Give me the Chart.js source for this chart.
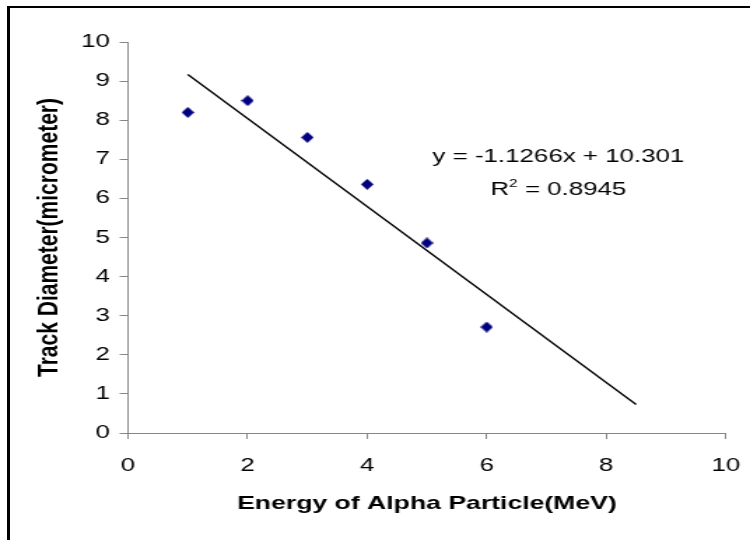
<!DOCTYPE html>
<html>
<head>
<meta charset="utf-8">
<script src="https://cdn.jsdelivr.net/npm/chart.js@4"></script>
<style>
    html, body { margin: 0; padding: 0; background: #fff; overflow: hidden; }
    .frame {
        position: absolute; left: 7px; top: 6px; width: 800px; height: 600px;
        border-top: 2px solid #000; border-left: 3px solid #000;
    }
    /* the reference is stretched sideways, so the canvas is drawn narrow and widened */
    #chart { position: absolute; left: 0; top: 0; }
</style>
</head>
<body>
<div class="frame"></div>
<canvas id="chart" width="536" height="540" style="width:750px;height:540px"></canvas>
<script>
(function () {
    "use strict";

    // Data
    const energy = [1, 2, 3, 4, 5, 6];
    const diameter = [8.2, 8.5, 7.56, 6.36, 4.86, 2.71];
    const trendX = [1, 8.5];
    const trendY = [9.17, 0.73];
    const equationText = "y = -1.1266x + 10.301";
    const rSquaredText = " = 0.8945";

    const FONT = '"Liberation Sans", Arial, sans-serif';
    const axisGray = "#868686";

    // diamond marker, a bit taller than wide (before stretching)
    const marker = document.createElement("canvas");
    marker.width = 9;
    marker.height = 11;
    const mctx = marker.getContext("2d");
    mctx.fillStyle = "#000080";
    mctx.beginPath();
    mctx.moveTo(4.5, 0);
    mctx.lineTo(9, 5.5);
    mctx.lineTo(4.5, 11);
    mctx.lineTo(0, 5.5);
    mctx.closePath();
    mctx.fill();

    const equationLabel = {
        id: "equationLabel",
        afterDatasetsDraw(chart) {
            const ctx = chart.ctx;
            const x = chart.scales.x.getPixelForValue(7.2);
            const y1 = chart.scales.y.getPixelForValue(6.93);
            const y2 = chart.scales.y.getPixelForValue(6.09);
            ctx.save();
            ctx.fillStyle = "#000";
            ctx.textBaseline = "alphabetic";
            ctx.font = "18.5px " + FONT;
            ctx.textAlign = "center";
            ctx.fillText(equationText, x, y1);

            // R² line, drawn piece by piece for the superscript
            ctx.textAlign = "left";
            const wR = ctx.measureText("R").width;
            const wRest = ctx.measureText(rSquaredText).width;
            ctx.font = "11px " + FONT;
            const wSup = ctx.measureText("2").width;
            let left = x - (wR + wSup + wRest) / 2;
            ctx.font = "18.5px " + FONT;
            ctx.fillText("R", left, y2);
            ctx.font = "11px " + FONT;
            ctx.fillText("2", left + wR, y2 - 8);
            ctx.font = "18.5px " + FONT;
            ctx.fillText(rSquaredText, left + wR + wSup, y2);
            ctx.restore();
        },
    };

    new Chart(document.getElementById("chart"), {
        type: "scatter",
        data: {
            datasets: [
                {
                    label: "Track diameter",
                    data: energy.map((e, i) => ({ x: e, y: diameter[i] })),
                    pointStyle: marker,
                    pointRadius: 6,
                    pointHoverRadius: 6,
                    showLine: false,
                },
                {
                    label: "Linear trend",
                    data: trendX.map((e, i) => ({ x: e, y: trendY[i] })),
                    showLine: true,
                    borderColor: "#000",
                    borderWidth: 1.4,
                    pointRadius: 0,
                    fill: false,
                },
            ],
        },
        options: {
            responsive: false,
            devicePixelRatio: 1,
            animation: false,
            layout: {
                padding: { left: 0, right: 17.3, top: 42, bottom: 0 },
            },
            plugins: {
                legend: { display: false },
                tooltip: { enabled: false },
            },
            scales: {
                x: {
                    type: "linear",
                    min: 0,
                    max: 10,
                    afterFit: (scale) => {
                        scale.height = 107;
                        scale.paddingLeft = 0;
                        scale.paddingRight = 0;
                    },
                    ticks: {
                        stepSize: 2,
                        padding: 16,
                        color: "#000",
                        font: { family: FONT, size: 18.5 },
                    },
                    grid: {
                        drawOnChartArea: false,
                        tickLength: 6,
                        color: axisGray,
                    },
                    border: { color: axisGray, width: 1 },
                    title: {
                        display: true,
                        text: "Energy of Alpha Particle(MeV)",
                        color: "#000",
                        font: { family: FONT, size: 19, weight: "bold" },
                        padding: { top: 0, bottom: 25 },
                    },
                },
                y: {
                    type: "linear",
                    min: 0,
                    max: 10,
                    afterFit: (scale) => {
                        scale.width = 91.5;
                        scale.paddingTop = 0;
                        scale.paddingBottom = 0;
                    },
                    ticks: {
                        stepSize: 1,
                        padding: 7,
                        color: "#000",
                        font: { family: FONT, size: 18.5 },
                    },
                    grid: {
                        drawOnChartArea: false,
                        tickLength: 6,
                        color: axisGray,
                    },
                    border: { color: axisGray, width: 1 },
                    title: {
                        display: true,
                        text: "Track Diameter(micrometer)",
                        color: "#000",
                        font: { family: FONT, size: 21, weight: "bold" },
                        padding: { top: 23, bottom: 0 },
                    },
                },
            },
        },
        plugins: [equationLabel],
    });
})();
</script>
</body>
</html>
